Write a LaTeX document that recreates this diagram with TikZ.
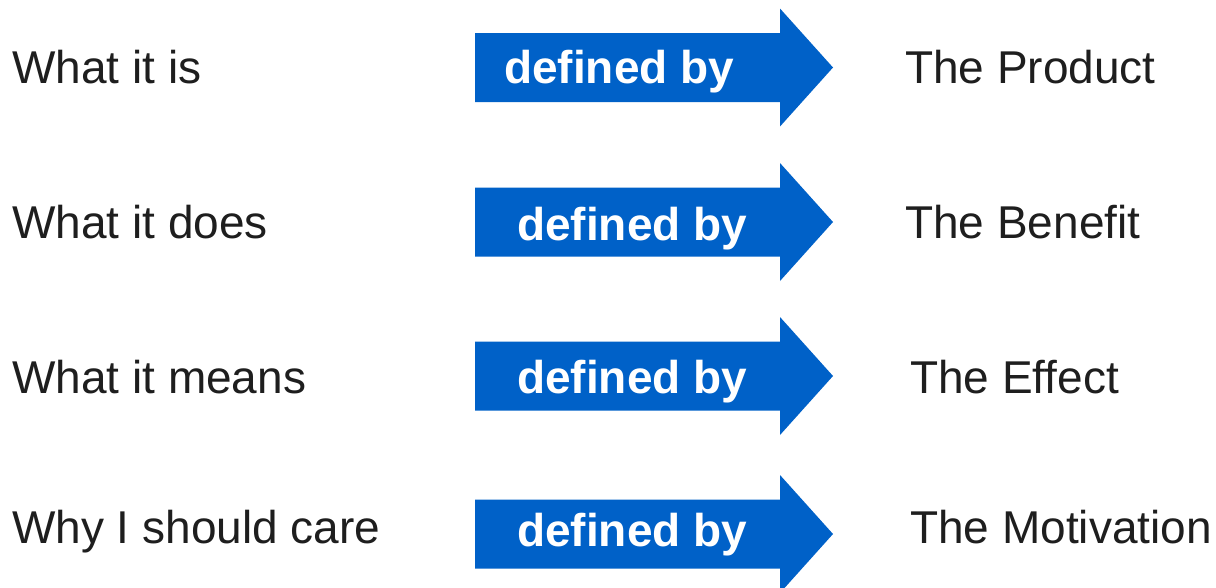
\documentclass[tikz,border=0pt]{standalone}
\usepackage{fontspec}
\setmainfont{Liberation Sans}
\definecolor{arrowblue}{RGB}{0,97,200}
\definecolor{labelgray}{RGB}{30,30,30}
\tikzset{
  lbl/.style={anchor=base west, inner sep=0pt, text=labelgray, font=\fontsize{46}{50}\selectfont},
  arrtext/.style={anchor=base west, inner sep=0pt, text=white, font=\fontsize{46}{50}\selectfont\bfseries},
  bluearrow/.style={fill=arrowblue, draw=none}
}
\newcommand{\bigarrow}[1]{%
  \path[bluearrow] (475,#1-34.5) -- (780,#1-34.5) -- (780,#1-59) -- (833,#1) -- (780,#1+59) -- (780,#1+34.5) -- (475,#1+34.5) -- cycle;}
\begin{document}
\begin{tikzpicture}[x=1pt,y=-1pt]
\useasboundingbox (0,0) rectangle (1216,587);
\fill[white] (0,0) rectangle (1216,587);
\bigarrow{67.5}
\bigarrow{222}
\bigarrow{376}
\bigarrow{534}
\node[lbl] (l1) at (12,83) {What it is};
\node[lbl] (l2) at (12,238) {What it does};
\node[lbl] (l3) at (12,393) {What it means};
\node[lbl] (l4) at (12,543) {Why I should care};
\node[arrtext] (a1) at (504,83) {defined by};
\node[arrtext] (a2) at (517,240) {defined by};
\node[arrtext] (a3) at (517,393) {defined by};
\node[arrtext] (a4) at (517,546) {defined by};
\node[lbl] (r1) at (905,83) {The Product};
\node[lbl] (r2) at (905,238) {The Benefit};
\node[lbl] (r3) at (910,393) {The Effect};
\node[lbl] (r4) at (910,543) {The Motivation};
\end{tikzpicture}
\end{document}
